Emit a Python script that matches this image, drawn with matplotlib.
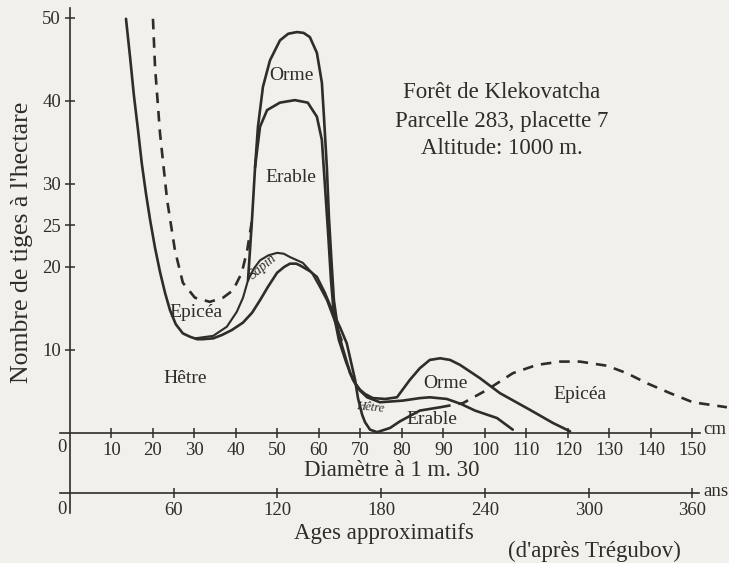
import matplotlib.pyplot as plt

# courbes (diametre en cm, nombre de tiges a l'hectare)
hetre_cm = [13.5, 14.5, 15.4, 16.4, 17.3, 18.3, 19.3, 20.5, 21.7, 22.9, 24.1, 25.5, 27.2, 28.9,
            30.6, 32.0, 34.5, 36.6, 39.0, 41.7, 43.9, 45.8, 47.7, 49.9, 51.6, 53.0, 54.5, 55.4,
            57.8, 59.5, 61.4, 63.4, 65.1, 66.7, 67.7, 68.7, 69.4, 70.4, 71.1, 72.3, 74.0, 77.1,
            79.5, 84.3, 89.2]
hetre_n = [49.9, 45.2, 40.7, 36.5, 32.5, 28.9, 25.7, 22.3, 19.4, 16.9, 14.8, 13.1, 12.0, 11.6,
           11.3, 11.3, 11.4, 11.8, 12.4, 13.3, 14.5, 16.0, 17.6, 19.3, 20.0, 20.4, 20.4, 20.2,
           19.5, 18.8, 16.9, 14.5, 12.7, 10.8, 8.6, 6.4, 4.2, 2.2, 1.3, 0.4, 0.1, 0.6,
           1.4, 2.7, 3.1]

epicea_g_cm = [20.0, 20.5, 21.7, 23.4, 25.3, 27.2, 30.1, 33.7, 36.9, 39.3, 41.4, 42.7, 43.9]
epicea_g_n = [49.9, 44.1, 36.1, 28.1, 22.0, 18.1, 16.3, 15.8, 16.3, 17.2, 19.3, 22.0, 25.7]

epicea_d_cm = [89.2, 94.7, 100.5, 106.7, 112.5, 118.1, 122.9, 129.4, 134.2, 139.0, 144.6, 150.1, 158.3]
epicea_d_n = [3.1, 3.6, 5.2, 7.2, 8.2, 8.6, 8.6, 8.1, 7.2, 6.0, 4.8, 3.7, 3.1]

epicea_cm = [30.1, 34.5, 37.8, 40.2, 41.7, 42.9]
epicea_n = [11.4, 11.7, 12.8, 14.6, 16.3, 18.4]

sapin_cm = [42.9, 44.3, 45.8, 47.8, 49.9, 51.5, 53.0, 56.1, 58.3, 60.2, 61.9, 63.4, 65.5]
sapin_n = [18.4, 19.8, 20.8, 21.4, 21.7, 21.6, 21.2, 20.5, 19.3, 17.6, 16.0, 14.0, 11.2]

orme_cm = [42.9, 43.9, 44.6, 45.3, 46.5, 48.2, 50.6, 52.6, 54.7, 56.3, 57.8, 59.5, 60.7, 61.2,
           61.9, 62.4, 63.1, 63.6, 64.6, 65.5, 67.5, 68.7, 69.9, 71.1, 73.0, 76.0, 78.8, 81.9,
           84.3, 86.7, 89.2, 91.6, 94.0, 98.8, 103.6, 107.2, 110.8, 116.4, 120.5]
orme_n = [18.4, 26.0, 32.0, 36.9, 41.7, 44.9, 47.3, 48.1, 48.3, 48.2, 47.7, 45.8, 42.2, 38.1,
          32.0, 26.0, 20.0, 16.0, 12.4, 10.6, 7.2, 6.0, 5.2, 4.7, 4.2, 4.1, 4.3, 6.4,
          7.8, 8.8, 9.0, 8.8, 8.2, 6.6, 4.8, 3.8, 2.8, 1.2, 0.2]

erable_cm = [44.6, 45.1, 45.8, 47.5, 50.6, 54.2, 57.3, 59.5, 60.7, 61.4, 62.2, 62.9, 63.6, 64.8,
             66.5, 68.2, 69.9, 71.6, 74.7, 80.2, 84.3, 86.7, 90.8, 94.2, 97.6, 102.9, 106.7]
erable_n = [32.0, 34.1, 36.9, 38.9, 39.8, 40.1, 39.8, 38.1, 35.3, 30.1, 24.1, 18.4, 14.2, 11.2,
            8.6, 6.4, 5.1, 4.3, 3.7, 3.9, 4.2, 4.3, 4.1, 3.5, 2.7, 1.8, 0.4]

cm_ticks = [10, 20, 30, 40, 50, 60, 70, 80, 90, 100, 110, 120, 130, 140, 150]
n_ticks = [10, 20, 25, 30, 40, 50]
age_ticks = [60, 120, 180, 240, 300, 360]

plt.rcParams['font.family'] = ['Liberation Serif', 'DejaVu Serif']
ink = '#2f2c29'
papier = '#f1f0ec'
W, H = 729, 563

fig = plt.figure(figsize=(7.29, 5.63), dpi=100, facecolor=papier)
ax = fig.add_axes([60 / W, (H - 513) / H, (W - 60) / W, (513 - 8) / H])
ax.set_facecolor('none')
ax.set_xlim(-2.4, 158.8)
ax.set_ylim(-9.64, 51.2)

for s in ['top', 'right']:
    ax.spines[s].set_visible(False)
ax.spines['left'].set_position(('data', 0))
ax.spines['bottom'].set_position(('data', 0))
ax.spines['bottom'].set_bounds(-2.4, 151.8)
for s in ['left', 'bottom']:
    ax.spines[s].set_color(ink)
    ax.spines[s].set_linewidth(1.2)

ax.set_xticks(cm_ticks)
ax.set_yticks(n_ticks)
ax.tick_params(direction='inout', length=7, width=1.1, colors=ink, labelsize=13.5, pad=3)

sec = ax.secondary_xaxis((513 - 493) / 505, functions=(lambda c: c * 2.4, lambda a: a / 2.4))
sec.set_xticks(age_ticks)
sec.spines['bottom'].set_bounds(-5.8, 364)
sec.spines['bottom'].set_color(ink)
sec.spines['bottom'].set_linewidth(1.2)
sec.tick_params(direction='inout', length=7, width=1.1, colors=ink, labelsize=13.5, pad=3)

lw = 1.9
style = dict(color=ink, solid_joinstyle='round', solid_capstyle='round')
ax.plot(hetre_cm, hetre_n, lw=lw, **style)
ax.plot(epicea_cm, epicea_n, lw=lw * 0.8, **style)
ax.plot(sapin_cm, sapin_n, lw=lw * 0.8, **style)
ax.plot(orme_cm, orme_n, lw=lw, **style)
ax.plot(erable_cm, erable_n, lw=lw, **style)
ax.plot(epicea_g_cm, epicea_g_n, color=ink, lw=lw, ls=(0, (4, 3)))
ax.plot(epicea_d_cm, epicea_d_n, color=ink, lw=lw, ls=(0, (4, 3)))

# etiquettes des essences
fs = 14
ax.text(53.3, 43.1, 'Orme', fontsize=fs, color=ink, ha='center', va='center')
ax.text(53.3, 30.8, 'Erable', fontsize=fs, color=ink, ha='center', va='center')
ax.text(30.4, 14.5, 'Epicéa', fontsize=fs, color=ink, ha='center', va='center')
ax.text(27.7, 6.6, 'Hêtre', fontsize=fs, color=ink, ha='center', va='center')
ax.text(46.6, 20.0, 'Sapin', fontsize=10, style='italic', color=ink, ha='center', va='center', rotation=40)
ax.text(72.3, 3.1, 'Hêtre', fontsize=9, style='italic', color=ink, ha='center', va='center', rotation=-6)
ax.text(90.4, 6.0, 'Orme', fontsize=fs, color=ink, ha='center', va='center')
ax.text(87.2, 1.6, 'Erable', fontsize=fs, color=ink, ha='center', va='center')
ax.text(122.9, 4.6, 'Epicéa', fontsize=fs, color=ink, ha='center', va='center')

# titre
fig.text(502 / W, 1 - 93 / H, 'Forêt de Klekovatcha', fontsize=16.5, color=ink, ha='center', va='center')
fig.text(502 / W, 1 - 121 / H, 'Parcelle 283, placette 7', fontsize=16.5, color=ink, ha='center', va='center')
fig.text(502 / W, 1 - 148 / H, 'Altitude: 1000 m.', fontsize=16.5, color=ink, ha='center', va='center')

# axes
fig.text(22 / W, 1 - 242 / H, "Nombre de tiges à l'hectare", fontsize=18.5, color=ink,
         ha='center', va='center', rotation=90)
fig.text(62 / W, 1 - 447 / H, '0', fontsize=13.5, color=ink, ha='center', va='center')
fig.text(62 / W, 1 - 509 / H, '0', fontsize=13.5, color=ink, ha='center', va='center')
fig.text(703 / W, 1 - 430 / H, 'cm', fontsize=13.5, color=ink, ha='left', va='center')
fig.text(703 / W, 1 - 491 / H, 'ans', fontsize=13.5, color=ink, ha='left', va='center')
fig.text(392 / W, 1 - 471 / H, 'Diamètre à 1 m. 30', fontsize=16.5, color=ink, ha='center', va='center')
fig.text(384 / W, 1 - 534 / H, 'Ages approximatifs', fontsize=16.5, color=ink, ha='center', va='center')
fig.text(594 / W, 1 - 551 / H, "(d'après Trégubov)", fontsize=16.5, color=ink, ha='center', va='center')

fig.savefig('out.png', dpi=100, facecolor=papier)
